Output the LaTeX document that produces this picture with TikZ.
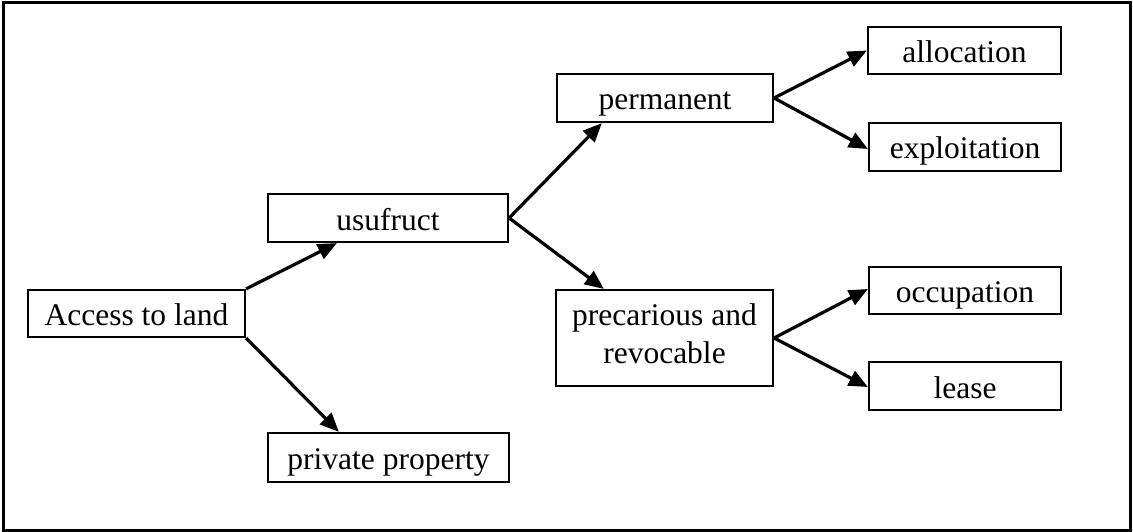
\documentclass[tikz,border=0pt]{standalone}
\usepackage{fontspec}
\setmainfont{Liberation Serif}
\usetikzlibrary{arrows.meta}
\begin{document}
\begin{tikzpicture}[x=1pt,y=-1pt,
  box/.style={draw=black,line width=2.2pt,rectangle,inner sep=0pt,align=center,
    font=\fontsize{31.5}{38}\selectfont,text height=25pt,text depth=1pt},
  conn/.style={line width=3.2pt,-{Triangle[length=19pt,width=16pt]}}]
\useasboundingbox (0,0) rectangle (1133,532);
\draw[line width=3.5pt] (3.5,2.5) rectangle (1130.5,530.5);
\node[box,minimum width=217pt,minimum height=47pt] (access) at (136.5,313.5) {Access to land};
\node[box,minimum width=240pt,minimum height=48pt] (usufruct) at (388,218) {usufruct};
\node[box,minimum width=241pt,minimum height=49pt] (private) at (388.5,457.5) {private property};
\node[box,minimum width=216pt,minimum height=48pt] (permanent) at (665,98) {permanent};
\node[box,minimum width=217pt,minimum height=96pt,text height=,text depth=9.5pt] (precarious) at (664.5,338) {precarious and\\revocable};
\node[box,minimum width=193pt,minimum height=47pt] (allocation) at (964.5,50.5) {allocation};
\node[box,minimum width=192pt,minimum height=48pt] (exploitation) at (965,147) {exploitation};
\node[box,minimum width=192pt,minimum height=47pt] (occupation) at (965,290.5) {occupation};
\node[box,minimum width=192pt,minimum height=48pt] (lease) at (965,386) {lease};
\draw[conn] (access.north east) -- ([xshift=70pt]usufruct.south west);
\draw[conn] (access.south east) -- ([xshift=72pt]private.north west);
\draw[conn] (usufruct.east) -- ([xshift=46pt]permanent.south west);
\draw[conn] (usufruct.east) -- ([xshift=49pt]precarious.north west);
\draw[conn] (permanent.east) -- (allocation.west);
\draw[conn] (permanent.east) -- ([yshift=-2pt]exploitation.west);
\draw[conn] (precarious.east) -- ([yshift=1.5pt]occupation.west);
\draw[conn] (precarious.east) -- ([yshift=-1pt]lease.west);
\end{tikzpicture}
\end{document}
